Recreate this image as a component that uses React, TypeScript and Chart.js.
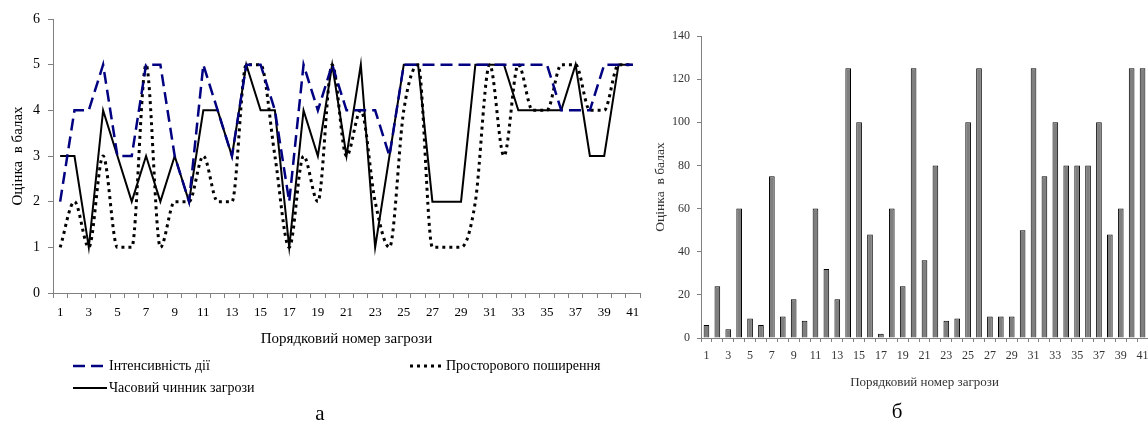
import React, { useEffect, useRef } from 'react';
import { Chart, registerables } from 'chart.js';

Chart.register(...registerables);

const categories = ['1','2','3','4','5','6','7','8','9','10','11','12','13','14','15','16','17','18','19','20','21','22','23','24','25','26','27','28','29','30','31','32','33','34','35','36','37','38','39','40','41'];

// Series of the line chart (а)
const intensity = [2,4,4,5,3,3,5,5,3,2,5,4,3,5,5,4,2,5,4,5,4,4,4,3,5,5,5,5,5,5,5,5,5,5,5,4,4,4,5,5,5];
const spatial = [1,2,1,3,1,1,5,1,2,2,3,2,2,5,5,3,1,3,2,5,3,4,2,1,4,5,1,1,1,2,5,3,5,4,4,5,5,4,4,5,5];
const temporal = [3,3,1,4,3,2,3,2,3,2,4,4,3,5,4,4,1,4,3,5,3,5,1,3,5,5,2,2,2,5,5,5,4,4,4,4,5,3,3,5,5];

// Bar chart values (б)
const totals = [6,24,4,60,9,6,75,10,18,8,60,32,18,125,100,48,2,60,24,125,36,80,8,9,100,125,10,10,10,50,125,75,100,80,80,80,100,48,60,125,125];

const seriesNames = ['Інтенсивність дії', 'Просторового поширення', 'Часовий чинник загрози'];
const xTitle = 'Порядковий номер загрози';
const yTitle = 'Оцінка  в балах';

const FONT = "'Liberation Serif', 'Times New Roman', serif";
const AXIS = '#808080';

const oddLabel = (_v: any, i: number) => (i % 2 === 0 ? categories[i] : '');

// Two-column legend drawn below the line chart, like the source figure
const legendPlugin = {
  id: 'twoColLegend',
  afterDraw(chart: any) {
    const ctx = chart.ctx;
    const items = [
      { x: 73, y: 366, ds: chart.data.datasets[0] },
      { x: 410, y: 366, ds: chart.data.datasets[1] },
      { x: 73, y: 388, ds: chart.data.datasets[2] },
    ];
    ctx.save();
    for (const it of items) {
      ctx.beginPath();
      ctx.setLineDash(it.ds.borderDash || []);
      ctx.strokeStyle = it.ds.borderColor;
      ctx.lineWidth = it.ds.borderWidth;
      ctx.moveTo(it.x, it.y);
      ctx.lineTo(it.x + 34, it.y);
      ctx.stroke();
      ctx.setLineDash([]);
      ctx.fillStyle = '#000';
      ctx.font = `14px ${FONT}`;
      ctx.textBaseline = 'middle';
      ctx.textAlign = 'left';
      ctx.fillText(it.ds.label, it.x + 36, it.y);
    }
    ctx.font = `21px ${FONT}`;
    ctx.textAlign = 'center';
    ctx.fillText('а', 320, 414);
    ctx.restore();
  },
};

function LineChart() {
  const ref = useRef<HTMLCanvasElement>(null);
  useEffect(() => {
    const chart = new Chart(ref.current!, {
      type: 'line',
      data: {
        labels: categories,
        datasets: [
          { label: seriesNames[0], data: intensity, borderColor: '#000080', borderWidth: 2.5, borderDash: [12, 6], pointRadius: 0, tension: 0, fill: false },
          { label: seriesNames[1], data: spatial, borderColor: '#000000', borderWidth: 3, borderDash: [3, 4], pointRadius: 0, cubicInterpolationMode: 'monotone', fill: false },
          { label: seriesNames[2], data: temporal, borderColor: '#000000', borderWidth: 2, pointRadius: 0, tension: 0, fill: false },
        ],
      },
      options: {
        animation: false,
        responsive: false,
        layout: { padding: { top: 19, right: 10, left: 0, bottom: 78 } },
        plugins: { legend: { display: false }, tooltip: { enabled: false } },
        scales: {
          x: {
            offset: true,
            grid: { display: true, drawOnChartArea: false, drawTicks: true, tickLength: 5, offset: true, color: AXIS },
            border: { display: true, color: AXIS, width: 1 },
            ticks: { autoSkip: false, maxRotation: 0, minRotation: 0, padding: 7, color: '#000', font: { family: FONT, size: 13 }, callback: oddLabel },
            title: { display: true, text: xTitle, color: '#000', font: { family: FONT, size: 15 }, padding: { top: 0, bottom: 4 } },
            afterFit: (s: any) => { s.height = 59; },
          },
          y: {
            min: 0,
            max: 6,
            grid: { display: true, drawOnChartArea: false, drawTicks: true, tickLength: 5, color: AXIS },
            border: { display: true, color: AXIS, width: 1 },
            ticks: { stepSize: 1, padding: 8, color: '#000', font: { family: FONT, size: 14 } },
            title: { display: true, text: yTitle, color: '#000', font: { family: FONT, size: 15 }, padding: { top: 9, bottom: 0 } },
            afterFit: (s: any) => { s.width = 53; },
          },
        },
      },
      plugins: [legendPlugin],
    });
    return () => chart.destroy();
  }, []);
  return <canvas ref={ref} width={650} height={430} style={{ position: 'absolute', left: 0, top: 0, width: 650, height: 430 }} />;
}

const subLabelPlugin = {
  id: 'subLabel',
  afterDraw(chart: any) {
    const ctx = chart.ctx;
    ctx.save();
    ctx.fillStyle = '#000';
    ctx.font = `21px ${FONT}`;
    ctx.textAlign = 'center';
    ctx.textBaseline = 'middle';
    ctx.fillText('б', 897 - 640, 412);
    ctx.restore();
  },
};

function BarChart() {
  const ref = useRef<HTMLCanvasElement>(null);
  useEffect(() => {
    const chart = new Chart(ref.current!, {
      type: 'bar',
      data: {
        labels: categories,
        datasets: [
          { label: 'total', data: totals, backgroundColor: '#7f7f7f', borderColor: '#000000', borderWidth: 1, categoryPercentage: 1, barPercentage: 0.52 },
        ],
      },
      options: {
        animation: false,
        responsive: false,
        layout: { padding: { top: 36, right: 12, left: 0, bottom: 40 } },
        plugins: { legend: { display: false }, tooltip: { enabled: false } },
        scales: {
          x: {
            offset: true,
            grid: { display: true, drawOnChartArea: false, drawTicks: true, tickLength: 4, offset: true, color: AXIS },
            border: { display: true, color: AXIS, width: 1 },
            ticks: { autoSkip: false, maxRotation: 0, minRotation: 0, padding: 7, color: '#333', font: { family: FONT, size: 12 }, callback: oddLabel },
            title: { display: true, text: xTitle, color: '#333', font: { family: FONT, size: 13 }, padding: { top: 0, bottom: 0 } },
            afterFit: (s: any) => { s.height = 52; },
          },
          y: {
            min: 0,
            max: 140,
            grid: { display: true, drawOnChartArea: false, drawTicks: true, tickLength: 4, color: AXIS },
            border: { display: true, color: AXIS, width: 1 },
            ticks: { stepSize: 20, padding: 7, color: '#333', font: { family: FONT, size: 12 } },
            title: { display: true, text: yTitle, color: '#333', font: { family: FONT, size: 13.5 }, padding: { top: 12, bottom: 0 } },
            afterFit: (s: any) => { s.width = 61; },
          },
        },
      },
      plugins: [subLabelPlugin],
    });
    return () => chart.destroy();
  }, []);
  return <canvas ref={ref} width={520} height={430} style={{ position: 'absolute', left: 640, top: 0, width: 520, height: 430 }} />;
}

export default function App() {
  return (
    <div style={{ position: 'absolute', left: 0, top: 0, width: 1148, height: 430, overflow: 'hidden', background: '#fff' }}>
      <LineChart />
      <BarChart />
    </div>
  );
}
